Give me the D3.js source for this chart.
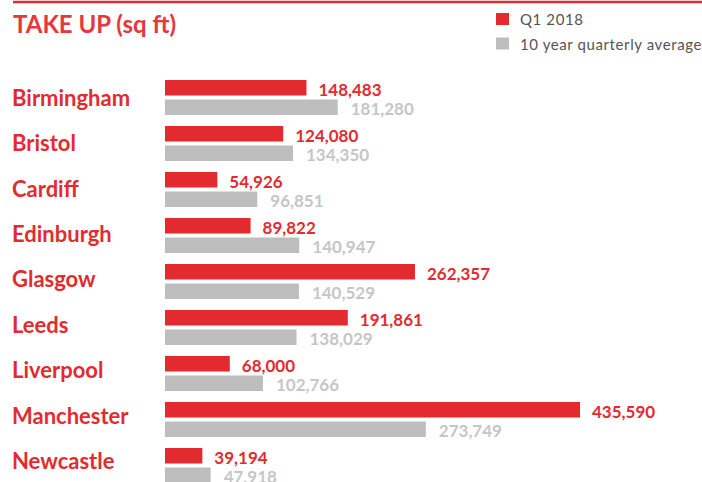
<!DOCTYPE html>
<html>
<head>
<meta charset="utf-8">
<script src="https://cdn.jsdelivr.net/npm/d3@7"></script>
<style>
body { margin: 0; background: #fff; }
svg text { font-family: Lato, "Open Sans", sans-serif; }
</style>
</head>
<body>
<svg id="chart" width="702" height="482"></svg>
<script>
var cities = ["Birmingham", "Bristol", "Cardiff", "Edinburgh", "Glasgow", "Leeds", "Liverpool", "Manchester", "Newcastle"];
var q1 = [148483, 124080, 54926, 89822, 262357, 191861, 68000, 435590, 39194];
var avg = [181280, 134350, 96851, 140947, 140529, 138029, 102766, 273749, 47918];
var seriesNames = ["Q1 2018", "10 year quarterly average"];

var red = "#e32b2f",
	grey = "#bdbdbd",
	greyText = "#c6c6c6";

var svg = d3.select("#chart");

/* scales */
var x = d3.scaleLinear()
	.domain([0, 435590])
	.range([165, 580]);

var y = d3.scaleBand()
	.domain(cities)
	.range([80, 80 + 46 * cities.length]);

// city names drift slightly up vs the bars in the original
var yLabel = d3.scaleBand()
	.domain(cities)
	.range([80, 80 + 45.4 * cities.length]);

var barH = 15.5, gap = 4;
var fmt = d3.format(",");

/* header */
svg.append("line")
	.attr("x1", 13).attr("x2", 702)
	.attr("y1", 2).attr("y2", 2)
	.attr("stroke", red)
	.attr("stroke-width", 2.5);

svg.append("text")
	.attr("x", 13)
	.attr("y", 33)
	.attr("fill", "#e8363b")
	.attr("font-size", 24)
	.attr("font-weight", 700)
	.text("TAKE UP (sq ft)");

/* legend */
var legend = svg.append("g").attr("transform", "translate(496,13)");
legend.selectAll("g")
	.data(seriesNames)
	.enter().append("g")
	.attr("transform", function(d, i) { return "translate(0," + (i * 24.5) + ")"; })
	.each(function(d, i) {
		var g = d3.select(this);
		g.append("rect")
			.attr("width", 13).attr("height", 12)
			.attr("fill", i === 0 ? red : grey);
		g.append("text")
			.attr("x", 24)
			.attr("y", 12)
			.attr("font-family", "'Open Sans', sans-serif")
			.attr("font-size", 15)
			.attr("letter-spacing", 0.6)
			.attr("fill", "#555")
			.text(d);
	});

/* groups */
var group = svg.append("g").selectAll("g")
	.data(cities)
	.enter().append("g")
	.attr("transform", function(d) { return "translate(0," + y(d) + ")"; });

svg.append("g").selectAll("text")
	.data(cities)
	.enter().append("text")
	.attr("x", 12)
	.attr("y", function(d) { return yLabel(d) + 25.7; })
	.attr("fill", red)
	.attr("font-size", 22)
	.attr("font-weight", 700)
	.text(function(d) { return d; });

group.append("rect")
	.attr("x", x(0))
	.attr("y", 0)
	.attr("width", function(d, i) { return x(q1[i]) - x(0); })
	.attr("height", barH)
	.attr("fill", red);

group.append("rect")
	.attr("x", x(0))
	.attr("y", barH + gap)
	.attr("width", function(d, i) { return x(avg[i]) - x(0); })
	.attr("height", barH)
	.attr("fill", grey);

group.append("text")
	.attr("x", function(d, i) { return x(q1[i]) + 12; })
	.attr("y", barH)
	.attr("fill", red)
	.attr("font-size", 17)
	.attr("font-weight", 700)
	.text(function(d, i) { return fmt(q1[i]); });

group.append("text")
	.attr("x", function(d, i) { return x(avg[i]) + 13; })
	.attr("y", 2 * barH + gap)
	.attr("fill", greyText)
	.attr("font-size", 17)
	.attr("font-weight", 700)
	.text(function(d, i) { return fmt(avg[i]); });
</script>
</body>
</html>
